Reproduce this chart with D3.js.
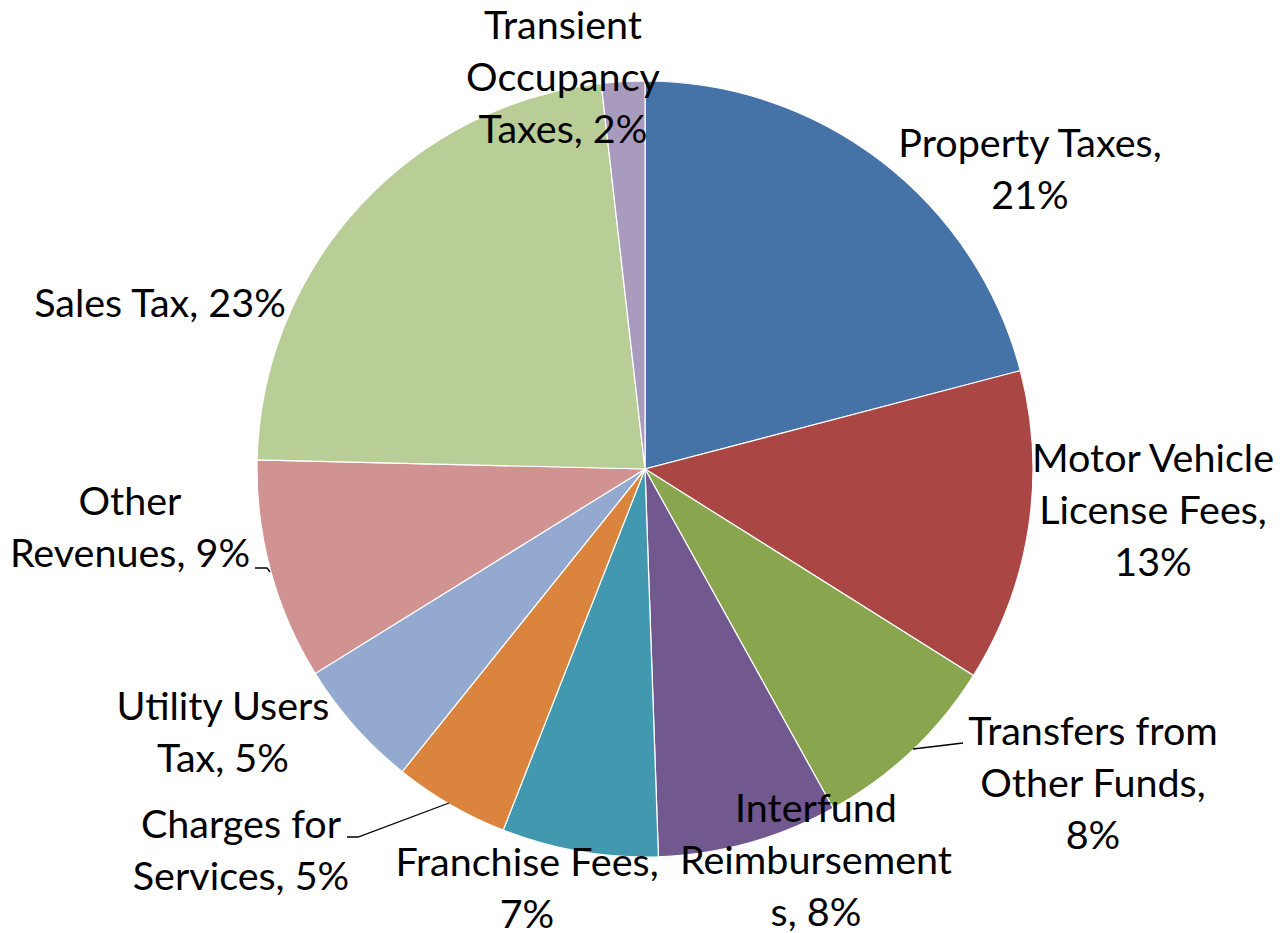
<!DOCTYPE html>
<html>
<head>
<meta charset="utf-8">
<script src="https://cdn.jsdelivr.net/npm/d3@7"></script>
<style>
  body { margin: 0; background: #fff; }
  text { font-family: Lato, "Open Sans", sans-serif; fill: #000; }
</style>
</head>
<body>
<script>
// revenue categories, clockwise from 12 o'clock
var categories = ["Property Taxes", "Motor Vehicle License Fees", "Transfers from Other Funds",
    "Interfund Reimbursements", "Franchise Fees", "Charges for Services",
    "Utility Users Tax", "Other Revenues", "Sales Tax", "Transient Occupancy Taxes"];
var shares = [20.9, 13.0, 8.0, 7.5, 6.5, 4.8, 5.4, 9.2, 22.8, 1.8];
var colors = ["#4572A7", "#AA4643", "#89A54E", "#71588F", "#4198AF",
    "#DB843D", "#93A9CF", "#D19392", "#B9CD96", "#A99BBD"];

// how each label wraps (Excel style), last line gets the percent appended
var labelLines = [
    ["Property Taxes,"],
    ["Motor Vehicle", "License Fees,"],
    ["Transfers from", "Other Funds,"],
    ["Interfund", "Reimbursement", "s,"],
    ["Franchise Fees,"],
    ["Charges for", "Services,"],
    ["Utility Users", "Tax,"],
    ["Other", "Revenues,"],
    ["Sales Tax,"],
    ["Transient", "Occupancy", "Taxes,"]
];
// percent goes on its own line for these
var pctOwnLine = [true, true, true, false, true, false, false, false, false, false];

// label layout: center x, first baseline
var labelPos = [[1030, 157], [1153, 472], [1093, 745], [816, 822], [527, 876],
    [241, 838], [223, 720], [130, 515], [160, 317], [563, 39]];

var width = 1280, height = 933;
var cx = 645, cy = 469, radius = 388;
var lineH = 52;

var svg = d3.select("body").append("svg")
    .attr("width", width)
    .attr("height", height);

var total = d3.sum(shares);
var pie = d3.pie().sort(null).value(function(d){ return d; });
var arcs = pie(shares);
var arc = d3.arc().innerRadius(0).outerRadius(radius);

var g = svg.append("g").attr("transform", "translate(" + cx + "," + cy + ")");

g.selectAll("path")
    .data(arcs)
    .enter().append("path")
    .attr("d", arc)
    .attr("fill", function(d, i){ return colors[i]; })
    .attr("stroke", "#fff")
    .attr("stroke-width", 1.2);

// leader lines (Transfers, Charges, Other Revenues)
var leaders = [
    {i: 2, pts: [[913, 749], [963, 743]]},
    {i: 5, pts: [[449, 803], [358, 837], [347, 837]]},
    {i: 7, pts: [[270, 572], [267, 568], [255, 568]]}
];
svg.selectAll("path.leader")
    .data(leaders)
    .enter().append("path")
    .attr("class", "leader")
    .attr("d", function(d){ return d3.line()(d.pts); })
    .attr("fill", "none")
    .attr("stroke", "#000")
    .attr("stroke-width", 1.3);

var labels = svg.selectAll("text.lbl")
    .data(arcs)
    .enter().append("text")
    .attr("class", "lbl")
    .attr("text-anchor", "middle")
    .attr("font-size", 39.5);

labels.each(function(d, i){
    var pct = Math.round(d.value / total * 100) + "%";
    var lines = labelLines[i].slice();
    if (pctOwnLine[i]) lines.push(pct);
    else lines[lines.length - 1] += " " + pct;
    var t = d3.select(this);
    lines.forEach(function(s, j){
        t.append("tspan")
            .attr("x", labelPos[i][0])
            .attr("y", labelPos[i][1] + j * lineH)
            .text(s);
    });
});
</script>
</body>
</html>
